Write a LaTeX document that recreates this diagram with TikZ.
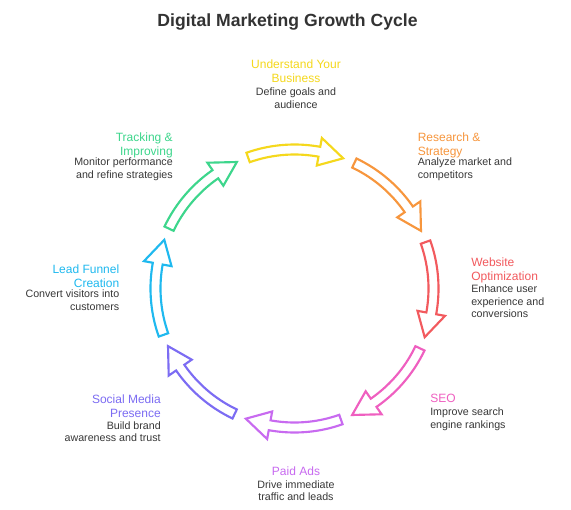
\documentclass[tikz,border=0pt]{standalone}
\usepackage{fontspec}
\setmainfont{Liberation Sans}
\definecolor{cyel}{HTML}{F5D81C}
\definecolor{cora}{HTML}{F7963D}
\definecolor{cred}{HTML}{F25A5E}
\definecolor{cpink}{HTML}{EF5FC0}
\definecolor{cpur}{HTML}{C86AF0}
\definecolor{cvio}{HTML}{7C6CF3}
\definecolor{ccya}{HTML}{1FB9EF}
\definecolor{cgre}{HTML}{3DD68C}
\definecolor{ctxt}{HTML}{383838}
\definecolor{ctitle}{HTML}{333333}
\newcommand\cycarr[2]{%
 \draw[#2, line width=1.6pt, fill=white]
  plot[domain=#1-19.5:#1+10.3, samples=25] ({294.5+144*cos(\x)},{288.5+144*sin(\x)})
  -- ({294.5+153*cos(#1+10.3)},{288.5+153*sin(#1+10.3)})
  -- ({294.5+139*cos(#1+20.5)},{288.5+139*sin(#1+20.5)})
  -- ({294.5+125*cos(#1+10.3)},{288.5+125*sin(#1+10.3)})
  -- plot[domain=#1+10.3:#1-19.5, samples=25] ({294.5+134*cos(\x)},{288.5+134*sin(\x)})
  -- cycle;}
\tikzset{
  head/.style={inner sep=0pt, font=\fontsize{9.0}{10.5}\selectfont},
  desc/.style={inner sep=0pt, text=ctxt, font=\fontsize{8.0}{9.4}\selectfont},
}
\begin{document}
\begin{tikzpicture}[x=0.75pt,y=-0.75pt]
\path[use as bounding box, fill=white] (0,0) rectangle (571,510);
\node[inner sep=0pt, anchor=base, text=ctitle, font=\fontsize{13.2}{15}\selectfont\bfseries] (title) at (287.5,27) {Digital Marketing Growth Cycle};

\cycarr{-90}{cyel}
\cycarr{-45}{cora}
\cycarr{0}{cred}
\cycarr{45}{cpink}
\cycarr{90}{cpur}
\cycarr{135}{cvio}
\cycarr{180}{ccya}
\cycarr{225}{cgre}

% top
\node[head, text=cyel, anchor=north, align=center] (h1) at (296,60) {Understand Your\\Business};
\node[desc, anchor=north, align=center] (d1) at (296,87.5) {Define goals and\\audience};
% research
\node[head, text=cora, anchor=north west, align=left] (h2) at (417.5,132.8) {Research \&\\Strategy};
\node[desc, anchor=north west, align=left] (d2) at (417.5,158) {Analyze market and\\competitors};
% website
\node[head, text=cred, anchor=north west, align=left] (h3) at (471,258) {Website\\Optimization};
\node[desc, anchor=north west, align=left] (d3) at (471,284.5) {Enhance user\\experience and\\conversions};
% seo
\node[head, text=cpink, anchor=north west, align=left] (h4) at (430,394) {SEO};
\node[desc, anchor=north west, align=left] (d4) at (430,407.5) {Improve search\\engine rankings};
% paid
\node[head, text=cpur, anchor=north, align=center] (h5) at (296,467) {Paid Ads};
\node[desc, anchor=north, align=center] (d5) at (296,480) {Drive immediate\\traffic and leads};
% social
\node[head, text=cvio, anchor=north east, align=right] (h6) at (161,394.5) {Social Media\\Presence};
\node[desc, anchor=north east, align=right] (d6) at (161,421) {Build brand\\awareness and trust};
% lead
\node[head, text=ccya, anchor=north east, align=right] (h7) at (119.5,264.5) {Lead Funnel\\Creation};
\node[desc, anchor=north east, align=right] (d7) at (119.5,290) {Convert visitors into\\customers};
% tracking
\node[head, text=cgre, anchor=north east, align=right] (h8) at (173,132.8) {Tracking \&\\Improving};
\node[desc, anchor=north east, align=right] (d8) at (173,158) {Monitor performance\\and refine strategies};
\end{tikzpicture}
\end{document}
